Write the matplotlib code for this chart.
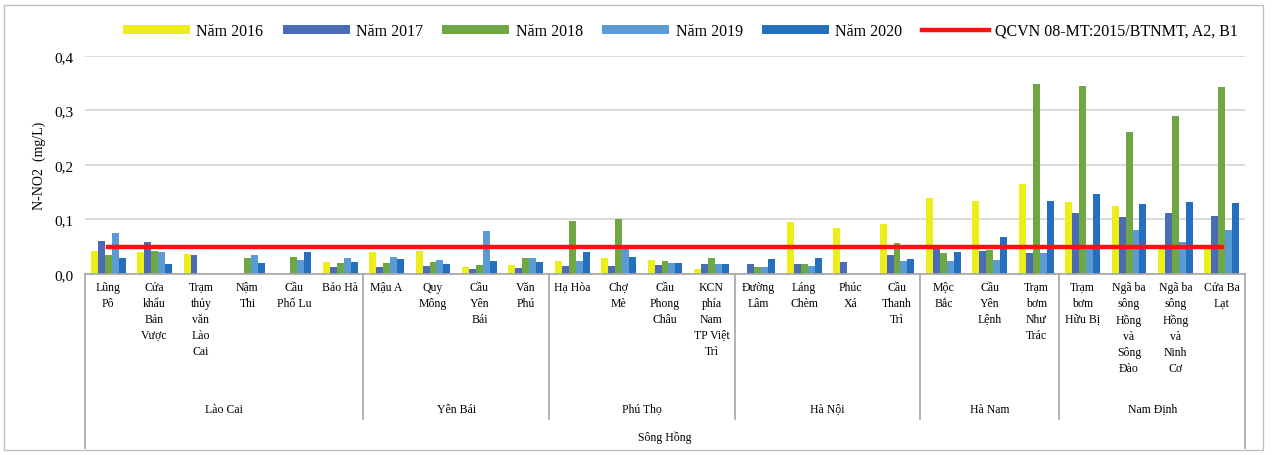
import numpy as np
import matplotlib.pyplot as plt
from matplotlib.patches import Rectangle
from matplotlib.ticker import FuncFormatter

plt.rcParams['font.family'] = ['Liberation Serif', 'DejaVu Serif']

stations = ["Lũng\nPô", "Cửa\nkhẩu\nBản\nVược", "Trạm\nthủy\nvăn\nLào\nCai", "Nậm\nThi",
            "Cầu\nPhố Lu", "Bảo Hà", "Mậu A", "Quy\nMông", "Cầu\nYên\nBái", "Văn\nPhú",
            "Hạ Hòa", "Chợ\nMè", "Cầu\nPhong\nChâu", "KCN\nphía\nNam\nTP Việt\nTrì",
            "Đường\nLâm", "Láng\nChèm", "Phúc\nXá", "Cầu\nThanh\nTrì",
            "Mộc\nBắc", "Cầu\nYên\nLệnh", "Trạm\nbơm\nNhư\nTrác",
            "Trạm\nbơm\nHữu Bị", "Ngã ba\nsông\nHồng\nvà\nSông\nĐào",
            "Ngã ba\nsông\nHồng\nvà\nNinh\nCơ", "Cửa Ba\nLạt"]
provinces = ["Lào Cai", "Yên Bái", "Phú Thọ", "Hà Nội", "Hà Nam", "Nam Định"]
province_sizes = [6, 4, 4, 4, 3, 4]
river = "Sông Hồng"

years = ["Năm 2016", "Năm 2017", "Năm 2018", "Năm 2019", "Năm 2020"]
v2016 = [0.042, 0.040, 0.037, 0.0, 0.0, 0.022, 0.040, 0.042, 0.012, 0.016,
         0.024, 0.029, 0.026, 0.010, 0.0, 0.095, 0.085, 0.092,
         0.140, 0.134, 0.165, 0.132, 0.125, 0.045, 0.045]
v2017 = [0.060, 0.058, 0.035, 0.0, 0.0, 0.013, 0.013, 0.015, 0.009, 0.011,
         0.015, 0.014, 0.016, 0.018, 0.018, 0.018, 0.022, 0.035,
         0.046, 0.042, 0.038, 0.112, 0.105, 0.112, 0.106]
v2018 = [0.035, 0.042, 0.0, 0.030, 0.031, 0.020, 0.020, 0.022, 0.016, 0.030,
         0.098, 0.100, 0.024, 0.030, 0.012, 0.018, 0.0, 0.057,
         0.039, 0.044, 0.348, 0.345, 0.260, 0.290, 0.343]
v2019 = [0.075, 0.040, 0.0, 0.035, 0.026, 0.030, 0.031, 0.025, 0.079, 0.030,
         0.024, 0.046, 0.020, 0.018, 0.012, 0.015, 0.0, 0.024,
         0.024, 0.025, 0.038, 0.050, 0.080, 0.058, 0.080]
v2020 = [0.030, 0.018, 0.0, 0.020, 0.040, 0.022, 0.027, 0.018, 0.024, 0.022,
         0.040, 0.032, 0.020, 0.018, 0.027, 0.030, 0.0, 0.027,
         0.040, 0.068, 0.134, 0.147, 0.128, 0.132, 0.130]
qcvn = 0.05
qcvn_label = "QCVN 08-MT:2015/BTNMT, A2, B1"

colors = ["#EDED1A", "#4A6BB5", "#6FA744", "#5B9BD5", "#2470BE"]

fig = plt.figure(figsize=(12.72, 4.56), dpi=100)
ax = fig.add_axes([0.0668, 0.397, 0.912, 0.478])

x = np.arange(len(stations))
w = 0.15
series = [v2016, v2017, v2018, v2019, v2020]
handles = []
for i, (vals, c, lab) in enumerate(zip(series, colors, years)):
    b = ax.bar(x + (i - 2) * w, vals, width=w, color=c, label=lab, zorder=2)
    handles.append(b)

ln, = ax.plot(x, [qcvn] * len(x), color="#FF1010", lw=3.2, label=qcvn_label, zorder=3)
handles.append(ln)

ax.set_xlim(-0.5, len(stations) - 0.5)
ax.set_ylim(0, 0.4)
ax.set_yticks([0, 0.1, 0.2, 0.3, 0.4])
ax.yaxis.set_major_formatter(FuncFormatter(lambda v, p: f"{v:.1f}".replace(".", ",")))
ax.grid(axis="y", color="#D4D4D4", lw=1.2, zorder=0)
for s in ["top", "right", "left"]:
    ax.spines[s].set_visible(False)
ax.spines["bottom"].set_color("#A6A6A6")
ax.spines["bottom"].set_linewidth(1.2)
ax.tick_params(axis="y", length=0, labelsize=11, pad=8)
ax.tick_params(axis="x", length=0, pad=5)
ax.set_xticks(x)
ax.set_xticklabels(stations, fontsize=8.5, linespacing=1.45, va="top")
ax.set_ylabel("N-NO2  (mg/L)", fontsize=10, labelpad=6)

# province labels and separators
trans = ax.get_xaxis_transform()
start = 0
bounds = [-0.5]
for name, n in zip(provinces, province_sizes):
    mid = start + (n - 1) / 2
    ax.text(mid, -0.62, name, transform=trans, ha="center", va="center", fontsize=8.5)
    start += n
    bounds.append(start - 0.5)
for b in bounds[1:-1]:
    ax.plot([b, b], [0, -0.665], transform=trans, color="#A6A6A6", lw=1.2, clip_on=False)
for b in [bounds[0], bounds[-1]]:
    ax.plot([b, b], [0, -0.80], transform=trans, color="#A6A6A6", lw=1.2, clip_on=False)
ax.text(len(stations) / 2 - 0.5, -0.745, river, transform=trans, ha="center", va="center", fontsize=8.5)

fig.legend(handles, years + [qcvn_label], loc="center", bbox_to_anchor=(0.535, 0.93),
           ncol=6, frameon=False, fontsize=11.5, handlelength=4.2, handleheight=0.45,
           columnspacing=1.2, handletextpad=0.4)

fig.patches.append(Rectangle((0.003, 0.012), 0.99, 0.975, transform=fig.transFigure,
                             fill=False, edgecolor="#BFBFBF", lw=1))

fig.savefig("out.png", dpi=100)
